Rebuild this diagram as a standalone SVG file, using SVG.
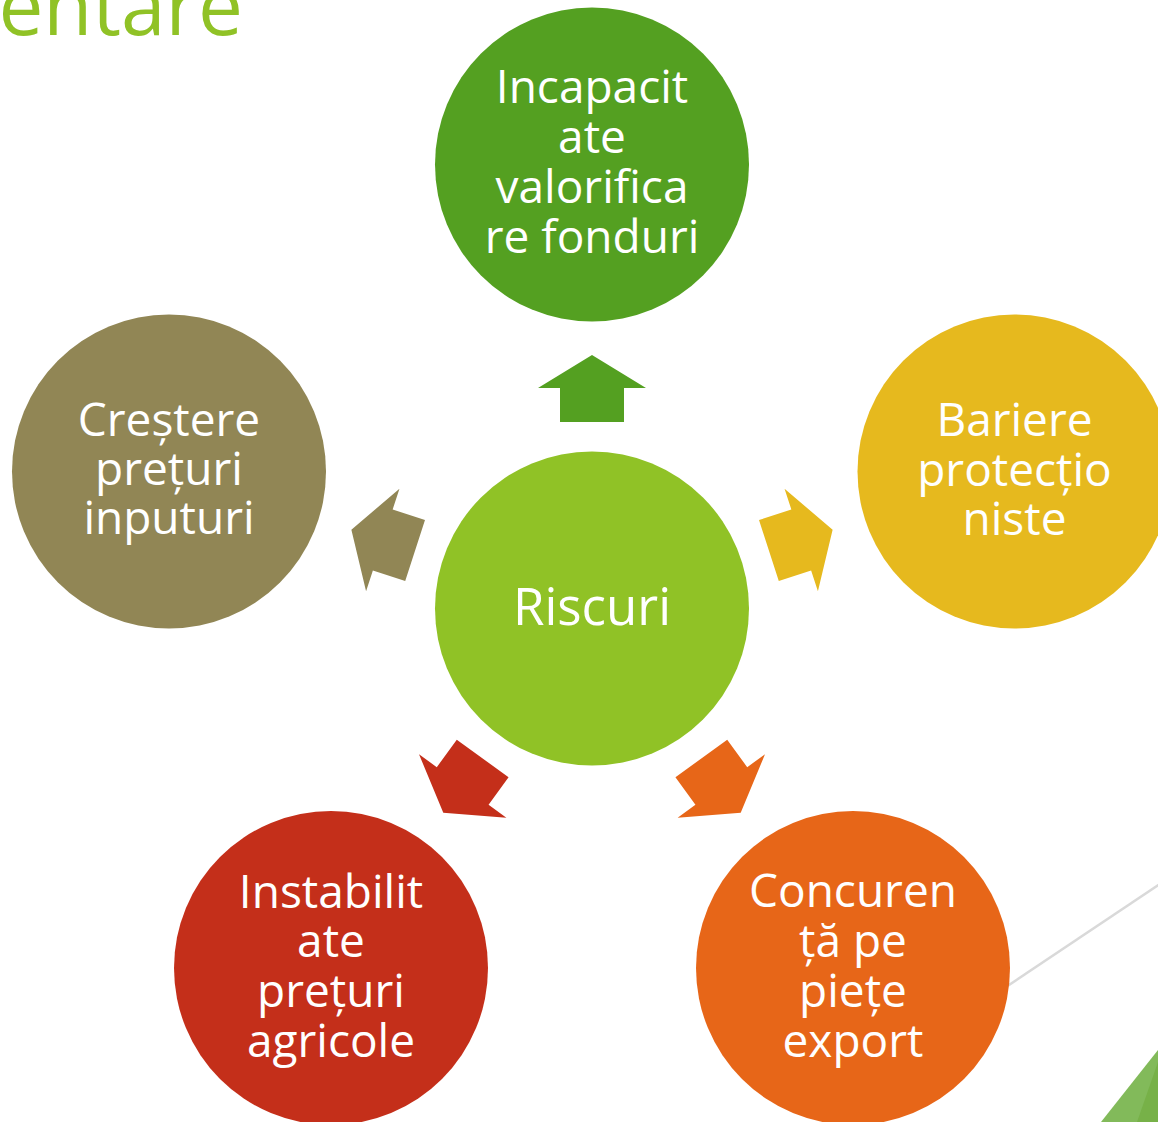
<svg xmlns="http://www.w3.org/2000/svg" width="1158" height="1122" viewBox="0 0 1158 1122">
<style>
.lbl{font-family:"Open Sans","Noto Sans","DejaVu Sans",sans-serif;font-size:46px;fill:#FFFFFF;text-anchor:middle}
.ttl{font-family:"Open Sans","Noto Sans","DejaVu Sans",sans-serif;font-size:80px;fill:#90C226;text-anchor:end}
</style>
<defs>
<path id="arr" d="M592,355 L646,388 L624,388 L624,422 L560,422 L560,388 L538,388 Z"/>
</defs>
<rect width="1158" height="1122" fill="#FFFFFF"/>
<text class="ttl" x="243" y="35">entare</text>
<line x1="985" y1="1001" x2="1160" y2="884" stroke="#D9D9D9" stroke-width="2.5"/>
<polygon points="1101,1122 1158,1050 1158,1122" fill="#82BA5A"/>
<polygon points="1137,1122 1158,1062 1158,1122" fill="#77B148"/>
<g id="connectors">
<use href="#arr" fill="#54A021"/>
<use href="#arr" fill="#E6B91E" transform="rotate(72 592 608)"/>
<use href="#arr" fill="#E76618" transform="rotate(144 592 608)"/>
<use href="#arr" fill="#C42F1A" transform="rotate(216 592 608)"/>
<use href="#arr" fill="#918655" transform="rotate(288 592 608)"/>
</g>
<g id="node-center">
<circle cx="592" cy="608.5" r="157" fill="#90C226"/>
<text class="lbl" x="592" y="625" style="font-size:51px">Riscuri</text>
</g>
<g id="node-top">
<circle cx="592" cy="164.5" r="157" fill="#54A021"/>
<text class="lbl" x="592" y="103">Incapacit</text>
<text class="lbl" x="592" y="153">ate</text>
<text class="lbl" x="592" y="203">valorifica</text>
<text class="lbl" x="592" y="253">re fonduri</text>
</g>
<g id="node-right">
<circle cx="1014.5" cy="471.5" r="157" fill="#E6B91E"/>
<text class="lbl" x="1014.5" y="436">Bariere</text>
<text class="lbl" x="1014.5" y="486">protecțio</text>
<text class="lbl" x="1014.5" y="535">niste</text>
</g>
<g id="node-bottom-right">
<circle cx="853" cy="968" r="157" fill="#E76618"/>
<text class="lbl" x="853" y="907">Concuren</text>
<text class="lbl" x="853" y="957">ță pe</text>
<text class="lbl" x="853" y="1007">piețe</text>
<text class="lbl" x="853" y="1057">export</text>
</g>
<g id="node-bottom-left">
<circle cx="331" cy="968" r="157" fill="#C42F1A"/>
<text class="lbl" x="331" y="908">Instabilit</text>
<text class="lbl" x="331" y="957">ate</text>
<text class="lbl" x="331" y="1007">prețuri</text>
<text class="lbl" x="331" y="1057">agricole</text>
</g>
<g id="node-left">
<circle cx="169" cy="471.5" r="157" fill="#918655"/>
<text class="lbl" x="169" y="436">Creștere</text>
<text class="lbl" x="169" y="485">prețuri</text>
<text class="lbl" x="169" y="534">inputuri</text>
</g>
</svg>
